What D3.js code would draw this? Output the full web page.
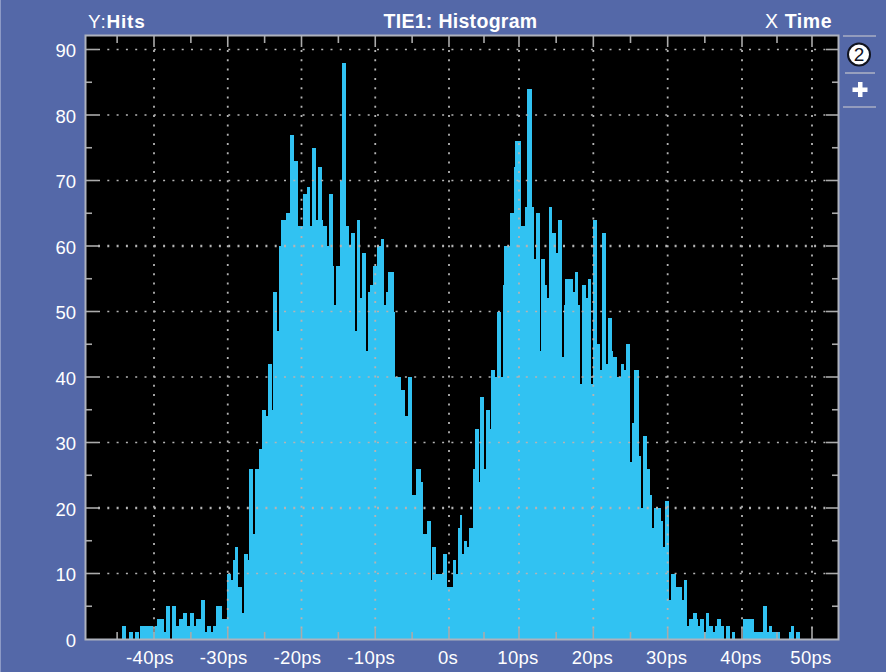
<!DOCTYPE html>
<html><head><meta charset="utf-8">
<script src="https://cdn.jsdelivr.net/npm/d3@7/dist/d3.min.js"></script>
<style>html,body{margin:0;padding:0;background:#5468a8}svg{display:block}text{font-family:"Liberation Sans",Arial,sans-serif;fill:#fff}</style>
</head><body><div id="c"></div>
<script>
const hits = [
2,2,0,0,1,1,0,1,1,0,2,2,2,2,2,2,2,1,2,3,3,3,3,1,5,5,0,5,5,2,2,3,3,4,4,2,2,4,4,2,3,3,3,6,6,1,2,2,1,2,2,5,5,5,3,3,3,
10,10,9,12,14,14,8,8,4,13,13,12,26,26,16,26,26,29,29,35,35,34,42,42,35,
53,53,47,60,64,64,64,65,65,77,77,73,73,63,63,63,68,68,69,69,63,75,75,64,72,72,64,63,63,60,68,68,57,51,57,57,
70,88,88,63,63,60,62,62,47,64,64,52,59,59,44,53,54,54,57,57,60,60,61,61,51,53,56,56,56,50,
40,40,40,38,38,34,34,40,40,22,22,26,26,26,24,16,16,18,18,9,14,14,10,10,10,10,13,13,8,8,8,12,12,10,17,19,13,15,15,14,17,17,
26,32,32,24,37,37,26,35,35,32,41,41,40,50,50,40,54,60,60,60,65,65,72,76,76,76,63,63,66,84,84,84,66,58,65,65,44,58,58,54,52,66,66,62,62,59,64,64,43,51,55,55,55,55,53,56,56,51,
39,54,54,52,55,55,39,64,64,45,45,41,62,62,42,49,49,44,43,43,40,40,42,42,41,45,45,27,33,41,41,41,28,20,31,31,26,26,22,17,20,20,20,20,18,14,21,21,
6,10,10,10,8,8,8,6,9,9,2,3,3,4,4,3,2,3,3,1,4,4,2,2,1,2,3,3,2,2,0,2,2,0,1,1,0,0,0,0,
3,3,3,3,3,3,1,1,1,1,1,5,5,1,2,2,1,1,1,1,0,0,0,0,0,1,2,2,0,1,1
];
const hitTicks = [0,10,20,30,40,50,60,70,80,90];
const timeTicks = [-40,-30,-20,-10,0,10,20,30,40,50];
const timeLabels = ["-40ps","-30ps","-20ps","-10ps","0s","10ps","20ps","30ps","40ps","50ps"];
const hitMinor = [5,15,25,35,45,55,65,75,85];
const timeMinor = [-45,-35,-25,-15,-5,5,15,25,35,45];

const W=886,H=672,L=86,T=36,R=838,B=639;
const svg=d3.select("#c").append("svg").attr("width",W).attr("height",H);
svg.append("rect").attr("width",W).attr("height",H).attr("fill","#5468a8");
svg.append("rect").attr("width",1).attr("height",H).attr("fill","#8d9ac6");

const x=d3.scaleLinear().domain([-40,0,10,40,50]).range([154,449,519,742,812]);
const binX=d3.scaleBand().domain(d3.range(hits.length)).range([122,800]);
const y=d3.scaleLinear().domain([0,90]).range([B,49.5]);

svg.append("rect").attr("x",L).attr("y",T).attr("width",R-L).attr("height",B-T).attr("fill","#000");

svg.append("g").selectAll("rect").data(hits).join("rect")
 .attr("x",(d,i)=>binX(i))
 .attr("width",binX.bandwidth())
 .attr("y",d=>y(d)).attr("height",d=>B-y(d))
 .attr("fill","#31c2f2").attr("shape-rendering","crispEdges");

const grid=svg.append("g").attr("stroke","#b4b4b4").attr("stroke-width",2).attr("stroke-dasharray","2 7.3");
grid.selectAll(".h").data(hitTicks.slice(1)).join("line").attr("class","h")
 .attr("x1",L+12).attr("x2",R-12).attr("y1",d=>y(d)).attr("y2",d=>y(d))
 .attr("stroke-width",d=>(d==60||d==20)?2.5:1.6);
grid.selectAll(".v").data(timeTicks).join("line").attr("class","v")
 .attr("y1",T+14).attr("y2",B-9).attr("x1",d=>x(d)).attr("x2",d=>x(d))
 .attr("stroke-width",1.8);

const ticks=svg.append("g").attr("stroke","#aaaaaa").attr("stroke-width",1.6);
function hTicks(data,len){
 ticks.selectAll(null).data(data).join("line").attr("x1",L).attr("x2",L+len).attr("y1",d=>y(d)).attr("y2",d=>y(d));
 ticks.selectAll(null).data(data).join("line").attr("x1",R-len).attr("x2",R).attr("y1",d=>y(d)).attr("y2",d=>y(d));
}
function vTicks(data,len){
 ticks.selectAll(null).data(data).join("line").attr("y1",T).attr("y2",T+len).attr("x1",d=>x(d)).attr("x2",d=>x(d));
 ticks.selectAll(null).data(data).join("line").attr("y1",B-len).attr("y2",B).attr("x1",d=>x(d)).attr("x2",d=>x(d));
}
hTicks(hitTicks.slice(1),12);hTicks(hitMinor,6);vTicks(timeTicks,11);vTicks(timeMinor,7);

svg.append("rect").attr("x",L-0.5).attr("y",T-0.5).attr("width",R-L+1).attr("height",B-T+1)
 .attr("fill","none").attr("stroke","#aeb2bd").attr("stroke-width",2);

const ax=svg.append("g").attr("transform",`translate(0,${B})`)
 .call(d3.axisBottom(x).tickValues(timeTicks).tickSize(0).tickPadding(12).tickFormat((d,i)=>timeLabels[i]));
ax.select(".domain").remove();
ax.selectAll("text").attr("font-size",18.5).attr("letter-spacing",0.3)
 .attr("dx",d=>d<0?-4.5:-1.5);
ax.attr("font-family",null);
const ay=svg.append("g").attr("transform",`translate(${L},0)`)
 .call(d3.axisLeft(y).tickValues(hitTicks).tickSize(0).tickPadding(10));
ay.select(".domain").remove();
ay.selectAll("text").attr("font-size",18.5).attr("dy","0.4em");
ay.attr("font-family",null);

const h1=svg.append("text").attr("x",88).attr("y",27.5).attr("font-size",19).attr("letter-spacing",0.8);
h1.append("tspan").text("Y:");h1.append("tspan").attr("font-weight","bold").text("Hits");
svg.append("text").attr("x",460.5).attr("y",27.5).attr("text-anchor","middle").attr("font-size",19.5).attr("font-weight","bold").attr("letter-spacing",0.3).text("TIE1: Histogram");
const h2=svg.append("text").attr("x",765).attr("y",27.5).attr("font-size",19.5).attr("letter-spacing",0.6);
h2.append("tspan").text("X ");h2.append("tspan").attr("font-weight","bold").text("Time");

const side=svg.append("g").attr("stroke","#a8aec4").attr("stroke-width",1.6);
[[843,876,36],[845,875,73],[843,876,107]].forEach(s=>side.append("line").attr("x1",s[0]).attr("x2",s[1]).attr("y1",s[2]).attr("y2",s[2]));
svg.append("circle").attr("cx",859).attr("cy",54.5).attr("r",11).attr("fill","#fff").attr("stroke","#10131f").attr("stroke-width",2);
svg.append("text").attr("x",859).attr("y",61).attr("text-anchor","middle").attr("font-size",19).style("fill","#10131f").text("2");
svg.append("rect").attr("x",852.5).attr("y",87.5).attr("width",15).attr("height",4.5).attr("fill","#fff");
svg.append("rect").attr("x",858).attr("y",82).attr("width",4.5).attr("height",15).attr("fill","#fff");
</script></body></html>
